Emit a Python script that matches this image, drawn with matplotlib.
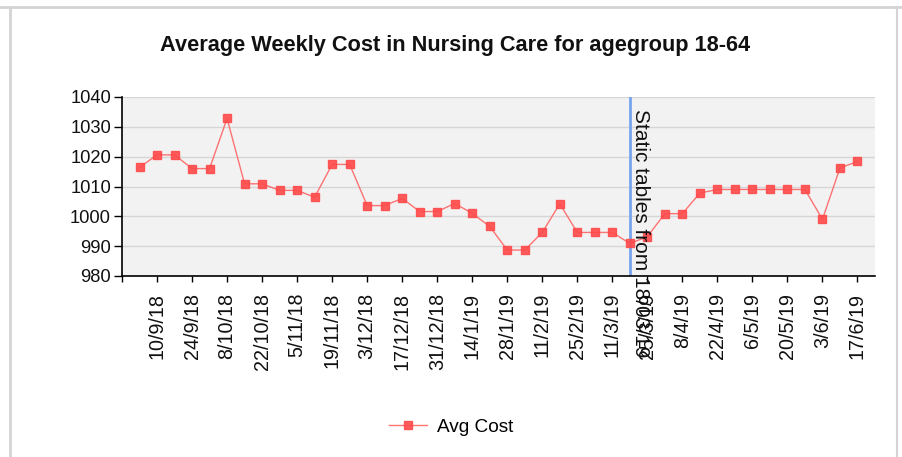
import matplotlib
matplotlib.use("Agg")
import matplotlib.pyplot as plt
from matplotlib.lines import Line2D

# weekly points, 3/9/18 .. 17/6/19
avg_cost = [
    1016.4, 1020.6, 1020.6, 1016.0, 1016.0, 1032.8, 1010.9, 1010.9, 1008.7, 1008.7,
    1006.4, 1017.4, 1017.4, 1003.6, 1003.6, 1006.0, 1001.6, 1001.6, 1004.3, 1001.0,
    996.6, 988.7, 988.7, 994.6, 1004.2, 994.6, 994.6, 994.6, 990.9, 993.2,
    1000.9, 1000.9, 1007.8, 1009.0, 1009.0, 1009.0, 1009.0, 1009.0, 1009.0, 999.0,
    1016.2, 1018.4,
]
tick_labels = [
    "10/9/18", "24/9/18", "8/10/18", "22/10/18", "5/11/18", "19/11/18", "3/12/18",
    "17/12/18", "31/12/18", "14/1/19", "28/1/19", "11/2/19", "25/2/19", "11/3/19",
    "25/3/19", "8/4/19", "22/4/19", "6/5/19", "20/5/19", "3/6/19", "17/6/19",
]
y_ticks = [980, 990, 1000, 1010, 1020, 1030, 1040]
marker_week = 28  # 18/03/19
title = "Average Weekly Cost in Nursing Care for agegroup 18-64"

font = "Liberation Sans"

fig = plt.figure(figsize=(9.03, 4.57), dpi=100)
fig.patch.set_facecolor("white")

# outer panel frame
frame_col = "#d4d4d4"
fig.add_artist(Line2D([0, 1], [1 - 7 / 457] * 2, transform=fig.transFigure, color=frame_col, lw=2))
fig.add_artist(Line2D([10 / 903] * 2, [0, 1 - 7 / 457], transform=fig.transFigure, color=frame_col, lw=2))
fig.add_artist(Line2D([897 / 903] * 2, [0, 1 - 7 / 457], transform=fig.transFigure, color=frame_col, lw=1.5))

ax = fig.add_axes([122 / 903, 1 - 276 / 457, (875 - 122) / 903, (276 - 97) / 457])
ax.set_facecolor("#f2f2f2")

x = list(range(len(avg_cost)))
ax.plot(x, avg_cost, color="#ff6464", lw=1, marker="s", markersize=5.5,
        markerfacecolor="#ff4a4a", markeredgecolor="#ff4a4a", alpha=0.9,
        label="Avg Cost", zorder=3)

ax.set_xlim(-1, 42)
ax.set_ylim(980, 1040)
ax.set_yticks(y_ticks)
ax.set_yticklabels([str(v) for v in y_ticks], fontfamily=font, fontsize=13.2, color="#111111")
xt = [-1] + list(range(1, 42, 2))
ax.set_xticks(xt)
ax.set_xticklabels([""] + tick_labels, rotation=90, fontfamily=font, fontsize=14.2,
                   color="#111111", va="top", ha="center")
ax.tick_params(axis="y", length=6, width=1, pad=2)
ax.tick_params(axis="x", length=4, width=1, pad=8)

ax.grid(axis="y", color="#d6d6d6", lw=1)
ax.set_axisbelow(True)
for side in ["top", "right"]:
    ax.spines[side].set_visible(False)
for side in ["left", "bottom"]:
    ax.spines[side].set_color("black")
    ax.spines[side].set_linewidth(1.2)

ax.axvline(marker_week, color="#78a4ee", lw=2, zorder=2)
ax.text(marker_week + 0.08, 1036, "Static tables from 18/03/19", rotation=270,
        ha="left", va="top", fontfamily=font, fontsize=15, color="#111111",
        clip_on=False, zorder=4)

fig.text(0.504, 1 - 45 / 457, title, ha="center", va="center",
         fontfamily=font, fontweight="bold", fontsize=15.7, color="#111111")

fig.legend(loc="center", bbox_to_anchor=(451 / 903, 1 - 427 / 457), frameon=False,
           prop={"family": font, "size": 13.7}, handlelength=2.0, handletextpad=0.5)

fig.savefig("out.png", dpi=100)
